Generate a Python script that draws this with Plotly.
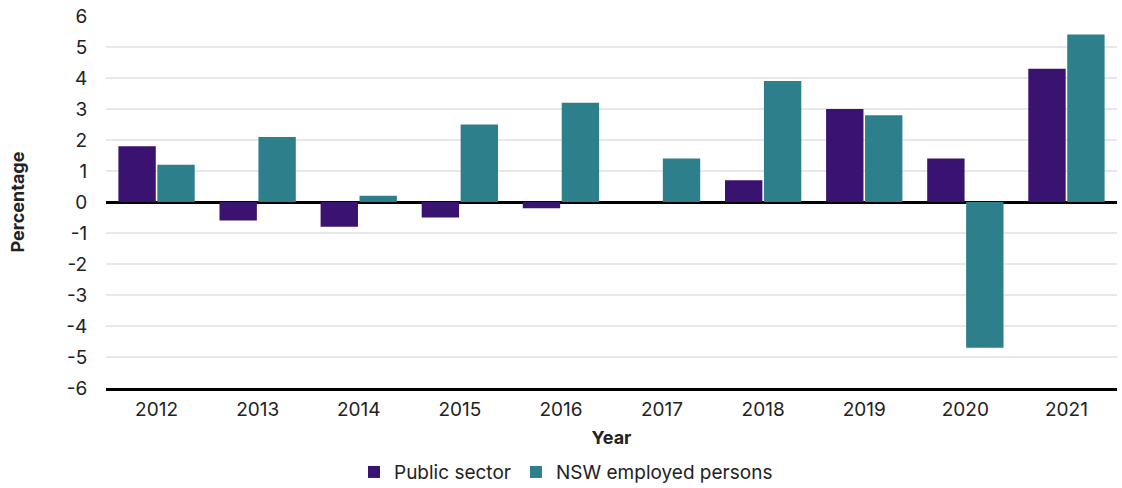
import plotly.graph_objects as go

years = ["2012", "2013", "2014", "2015", "2016", "2017", "2018", "2019", "2020", "2021"]
public_sector = [1.8, -0.6, -0.8, -0.5, -0.2, None, 0.7, 3.0, 1.4, 4.3]
nsw_employed = [1.2, 2.1, 0.2, 2.5, 3.2, 1.4, 3.9, 2.8, -4.7, 5.4]
y_ticks = [-6, -5, -4, -3, -2, -1, 0, 1, 2, 3, 4, 5, 6]
y_tick_labels = [str(v) for v in y_ticks]

FONT = "Inter, Noto Sans, sans-serif"

fig = go.Figure()
fig.add_trace(go.Bar(x=years, y=public_sector, name="Public sector", marker_color="#3A1270",
                     marker_line_width=0))
fig.add_trace(go.Bar(x=years, y=nsw_employed, name="NSW employed persons", marker_color="#2E7F8C",
                     marker_line_width=0))

fig.update_layout(
    width=1122, height=488,
    margin=dict(l=106, r=5, t=16, b=100, autoexpand=False),
    plot_bgcolor="white", paper_bgcolor="white",
    barmode="group", bargap=0.23, bargroupgap=0.04,
    font=dict(family=FONT, size=19, color="#222222"),
    legend=dict(orientation="h", x=0.455, xanchor="center", y=-0.175, yanchor="top",
                font=dict(size=19), itemwidth=30, traceorder="normal"),
    xaxis=dict(
        title=dict(text="<b>Year</b>", font=dict(size=18), standoff=12),
        showline=True, linecolor="black", linewidth=3,
        ticks="outside", ticklen=2, tickcolor="white",
        showgrid=False, automargin=False,
    ),
    yaxis=dict(
        title=dict(text="<b>Percentage</b>", font=dict(size=18), standoff=36),
        range=[-6, 6], tickvals=y_ticks, ticktext=y_tick_labels,
        showgrid=True, gridcolor="#e8e8ec", gridwidth=1.5,
        zeroline=True, zerolinecolor="black", zerolinewidth=2.5,
        ticks="outside", ticklen=14, tickcolor="white",
        automargin=False,
    ),
)

fig.write_html("out.html", config={"displayModeBar": False},
               post_script="document.body.style.margin='0';")
